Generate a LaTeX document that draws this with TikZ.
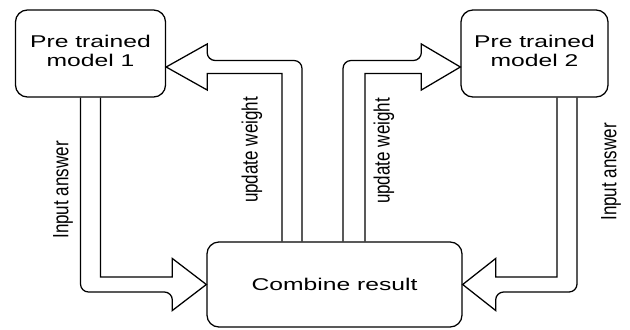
\documentclass[tikz,border=0pt]{standalone}
\usepackage{fontspec}
\setmainfont{Liberation Sans}
\usepackage{graphicx}
\usetikzlibrary{calc}
\newcommand{\widetxt}[1]{\scalebox{1.45}[1]{#1}}
\newcommand{\talltxt}[1]{\scalebox{1}[1.3]{#1}}

\begin{document}
\begin{tikzpicture}[x=0.025cm,y=-0.025cm,line width=0.9pt,
    font=\fontsize{12.1}{13.5}\selectfont]
  \useasboundingbox (0,0) rectangle (630,329);

  \begin{scope}[every node/.style={draw,rounded corners=0.3cm,inner sep=0pt,minimum height=2.175cm}]
    \node[minimum width=3.75cm]  (m1) at (90.5,53.5)  {\widetxt{\begin{tabular}{@{}c@{}}Pre trained\\model 1\end{tabular}}};
    \node[minimum width=3.675cm] (m2) at (534.5,53.5) {\widetxt{\begin{tabular}{@{}c@{}}Pre trained\\model 2\end{tabular}}};
    \node[minimum width=6.375cm,minimum height=2.125cm] (cr) at (334.5,284.5) {\widetxt{Combine result}};
  \end{scope}

  \coordinate (t1) at ($(m1.east)+(0,13.5)$);
  \coordinate (t2) at ($(m2.west)+(0,13.5)$);

  \begin{scope}[line join=miter]
    % input answer
    \draw ($(m1.south)+(-10,0)$) [rounded corners=0.2cm] |- ($(cr.west)+(-34,7.5)$) [sharp corners]
      -- ($(cr.west)+(-34,26)$) -- (cr.west) -- ($(cr.west)+(-34,-26)$) -- ($(cr.west)+(-34,-7.5)$)
      -| ($(m1.south)+(10,0)$);
    \draw ($(m2.south)+(42.5,0)$) [rounded corners=0.2cm] |- ($(cr.east)+(33,7.5)$) [sharp corners]
      -- ($(cr.east)+(33,26)$) -- (cr.east) -- ($(cr.east)+(33,-26)$) -- ($(cr.east)+(33,-7.5)$)
      -| ($(m2.south)+(22.5,0)$);
    % update weight
    \draw ($(cr.north)+(-32.5,0)$) [rounded corners=0.2cm] |- ($(t1)+(41,-6.5)$) [sharp corners]
      -- ($(t1)+(41,-23)$) -- (t1) -- ($(t1)+(41,23)$) -- ($(t1)+(41,6.5)$)
      -| ($(cr.north)+(-52.5,0)$);
    \draw ($(cr.north)+(8.5,0)$) [rounded corners=0.2cm] |- ($(t2)+(-39,-6.5)$) [sharp corners]
      -- ($(t2)+(-39,-23)$) -- (t2) -- ($(t2)+(-39,23)$) -- ($(t2)+(-39,6.5)$)
      -| ($(cr.north)+(30.5,0)$);
  \end{scope}

  \begin{scope}[every node/.style={rotate=90,inner sep=0pt}]
    \node (in1) at (63,190)  {\talltxt{Input answer}};
    \node (in2) at (611,172) {\talltxt{Input answer}};
    \node (uw1) at (252,150) {\talltxt{update weight}};
    \node (uw2) at (384,151) {\talltxt{update weight}};
  \end{scope}

\end{tikzpicture}
\end{document}
